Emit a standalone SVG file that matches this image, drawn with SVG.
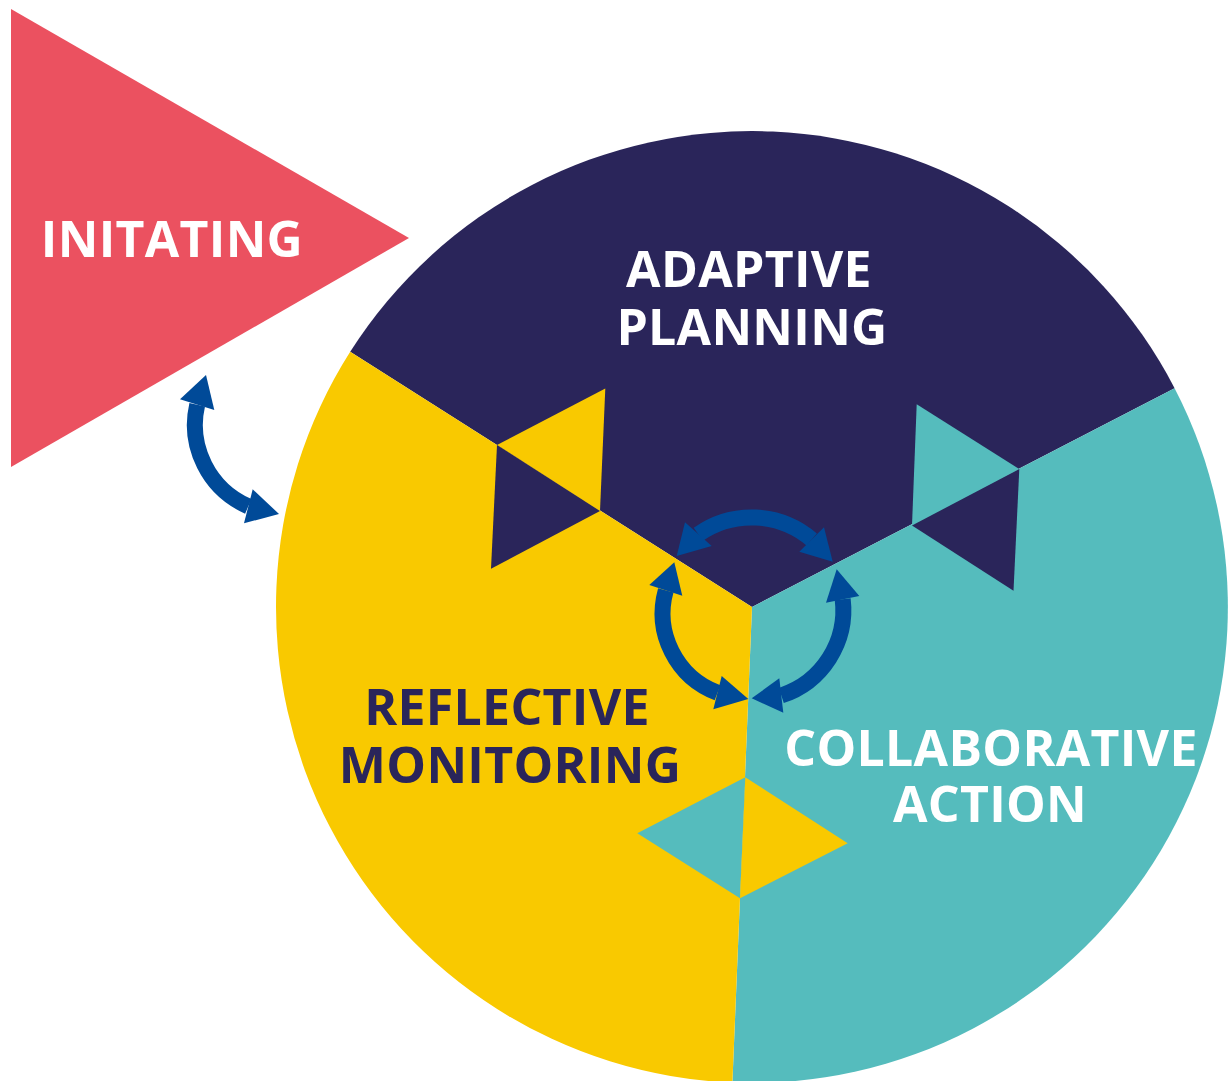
<svg xmlns="http://www.w3.org/2000/svg" width="1229" height="1081" viewBox="0 0 1229 1081">
  <style>
    .purple { fill: #2a255a; }
    .yellow { fill: #f9c900; }
    .teal { fill: #55bcbd; }
    .pink { fill: #eb5160; }
    .label { font-family: "Open Sans", "Noto Sans", "Liberation Sans", sans-serif; font-weight: 700; font-size: 50px; letter-spacing: 0.3px; text-anchor: middle; }
    .light { fill: #ffffff; }
    .dark { fill: #2a255a; }
    .arc { fill: none; stroke: #004a98; stroke-width: 16; }
    .head { fill: #004a98; }
  </style>

  <!-- Initiating phase: pointer triangle -->
  <g id="initiating">
    <polygon class="pink" points="11,9 409,238 11,467"/>
    <text class="label light" x="172" y="257">INITATING</text>
  </g>

  <!-- Adaptive planning sector (top) -->
  <g id="adaptive-planning">
    <path class="purple" d="M752,607 L350.2,351.8 A476,476 0 0 1 1174.6,388.2 Z"/>
    <text class="label light" x="749" y="287">ADAPTIVE</text>
    <text class="label light" x="752" y="345">PLANNING</text>
  </g>

  <!-- Collaborative action sector (right) -->
  <g id="collaborative-action">
    <path class="teal" d="M752,607 L1174.6,388.2 A476,476 0 0 1 732.4,1082.6 Z"/>
  </g>

  <!-- Reflective monitoring sector (left) -->
  <g id="reflective-monitoring">
    <path class="yellow" d="M752,607 L732.4,1082.6 A476,476 0 0 1 350.2,351.8 Z"/>
  </g>

  <!-- Interlocking rhombi on the sector borders -->
  <g id="joints">
    <polygon class="yellow" points="497,445 605.3,388.6 600,511"/>
    <polygon class="purple" points="497,445 600,511 491,568.7"/>
    <polygon class="teal" points="1019.3,469 916.7,404.3 912,525.5"/>
    <polygon class="purple" points="1019.3,469 1013.5,590.7 912,525.5"/>
    <polygon class="teal" points="745.3,777.3 637.3,833.3 740,898.3"/>
    <polygon class="yellow" points="745.3,777.3 847.7,843.3 740,898.3"/>
  </g>

  <!-- Sector captions drawn above the joints -->
  <g id="captions">
    <text class="label dark" x="507" y="725">REFLECTIVE</text>
    <text class="label dark" x="510" y="783">MONITORING</text>
    <text class="label light" x="991" y="766">COLLABORATIVE</text>
    <text class="label light" x="990" y="822">ACTION</text>
  </g>

  <!-- Two-way cycle arrows -->
  <g id="connectors">
    <g id="initiating-reflective">
      <path class="arc" d="M197.2,404.7 A89,89 0 0 0 248.3,506.3"/>
      <polygon class="head" points="206,375 180,399.3 214.3,410"/>
      <polygon class="head" points="279,514 252.7,489.3 244,523.3"/>
    </g>
    <g id="reflective-adaptive">
      <path class="arc" d="M698.3,534.2 A93,93 0 0 1 811.7,539.5"/>
      <polygon class="head" points="676.7,556 685,522.3 711.7,546"/>
      <polygon class="head" points="832.7,561.7 824,527.3 799.3,551.7"/>
    </g>
    <g id="reflective-loop">
      <path class="arc" d="M665.8,590.3 A85,85 0 0 0 717.5,692.7"/>
      <polygon class="head" points="674.3,562.3 649.3,585 682.3,595.7"/>
      <polygon class="head" points="748.3,699 721.7,676 713.3,709.3"/>
    </g>
    <g id="collaborative-loop">
      <path class="arc" d="M842.7,599.3 A90,90 0 0 1 781.3,695.5"/>
      <polygon class="head" points="836.7,569.3 826,602.7 859.3,596"/>
      <polygon class="head" points="751.7,698.3 779.3,678.3 783.3,712.7"/>
    </g>
  </g>
</svg>
